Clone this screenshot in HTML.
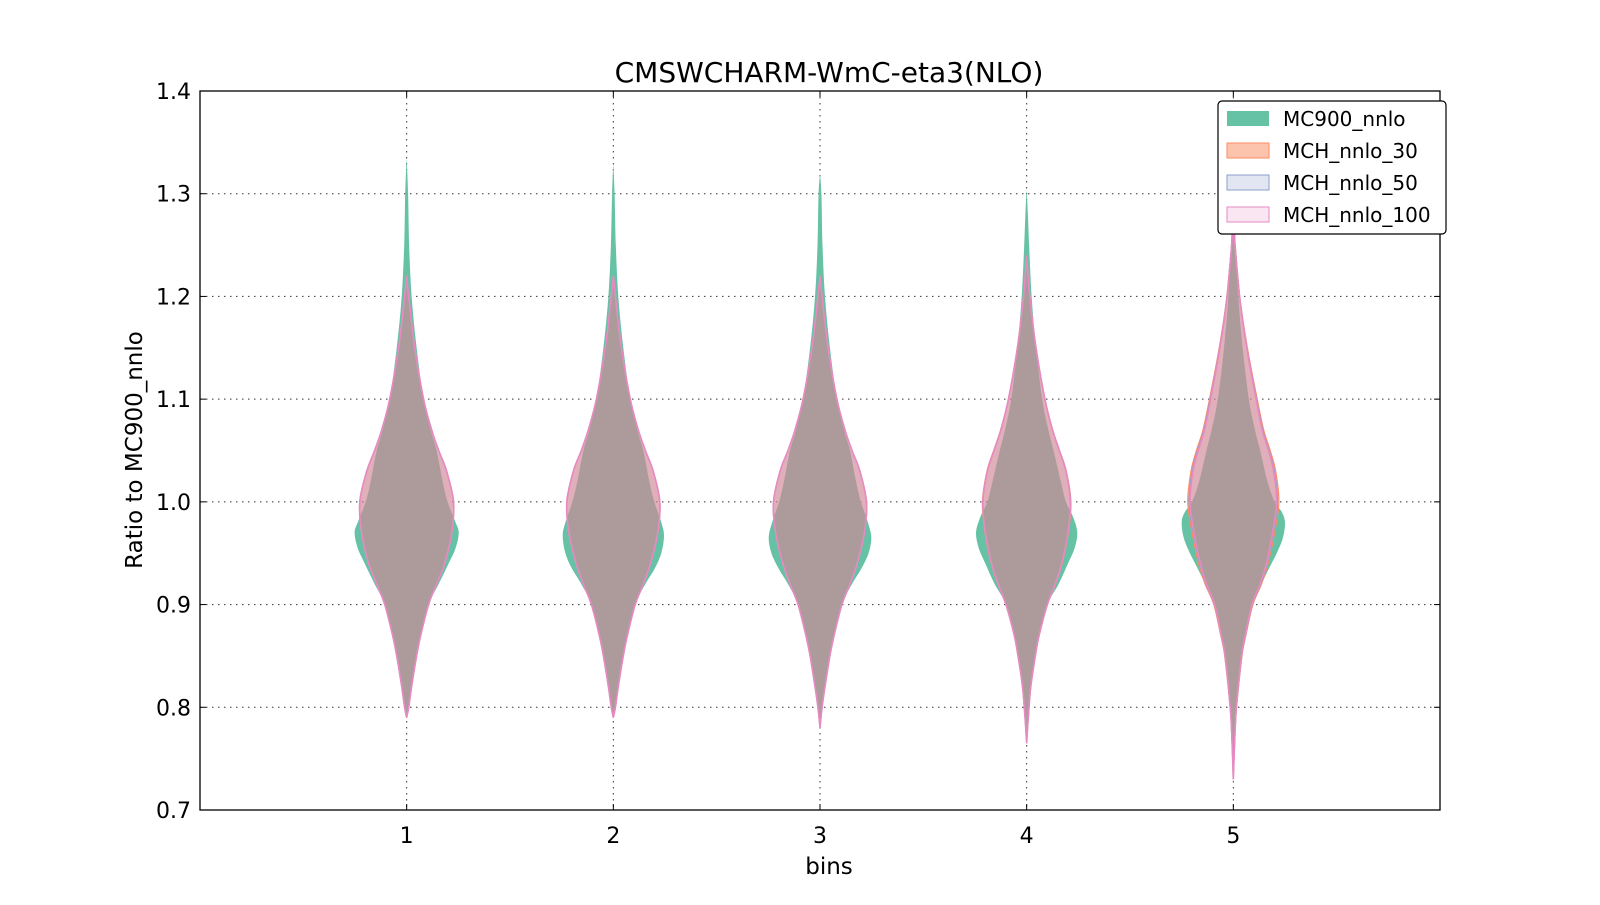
<!DOCTYPE html>
<html><head><meta charset="utf-8">
<style>
body{margin:0;background:#fff;}
svg text{font-family:"DejaVu Sans","Liberation Sans",sans-serif;fill:#000;}
</style></head>
<body>
<svg id="chart" width="1600" height="900" viewBox="0 0 1600 900" xmlns="http://www.w3.org/2000/svg">
<rect width="1600" height="900" fill="#fff"/>
<text x="829" y="82" font-size="28" text-anchor="middle">CMSWCHARM-WmC-eta3(NLO)</text>
<g id="grid"></g>
<g id="violins"></g>
<rect x="200" y="91" width="1240" height="719" fill="none" stroke="#000" stroke-width="1.3"/>
<g id="ticks"></g>
<text x="829" y="874" font-size="23" text-anchor="middle">bins</text>
<text transform="translate(142,450) rotate(-90)" font-size="23" text-anchor="middle">Ratio to MC900_nnlo</text>
<g>
<rect x="1218" y="101" width="228" height="133" rx="4" fill="#fff" stroke="#000" stroke-width="1.2"/>
<g><rect x="1227" y="111" width="42" height="15" fill="#66c2a5"/><text x="1283" y="126" font-size="20">MC900_nnlo</text></g>
<g><rect x="1227" y="143" width="42" height="15" fill="#fdc4ad" stroke="#fc8d62"/><text x="1283" y="158" font-size="20">MCH_nnlo_30</text></g>
<g><rect x="1227" y="175" width="42" height="15" fill="#e1e6f2" stroke="#8da0cb"/><text x="1283" y="190" font-size="20">MCH_nnlo_50</text></g>
<g><rect x="1227" y="207" width="42" height="15" fill="#faE6f3" stroke="#e78ac3"/><text x="1283" y="222" font-size="20">MCH_nnlo_100</text></g>
</g>
</svg>
<script>
const bins = [1, 2, 3, 4, 5];
const yTicks = [0.7, 0.8, 0.9, 1.0, 1.1, 1.2, 1.3, 1.4];
const yTickLabels = ["0.7", "0.8", "0.9", "1.0", "1.1", "1.2", "1.3", "1.4"];
// MC900 profiles: ratio values and half-widths (in bin units)
const greenVals = [
 [1.335,1.3,1.25,1.2,1.15,1.1,1.07,1.05,1.02,1.0,0.98,0.97,0.955,0.94,0.92,0.9,0.87,0.85,0.82,0.8,0.79],
 [1.33,1.3,1.25,1.2,1.15,1.1,1.07,1.05,1.02,1.0,0.98,0.967,0.95,0.935,0.92,0.9,0.87,0.85,0.82,0.8,0.79],
 [1.32,1.3,1.25,1.2,1.15,1.1,1.07,1.05,1.02,1.0,0.98,0.965,0.95,0.935,0.92,0.9,0.87,0.85,0.82,0.8,0.78],
 [1.305,1.28,1.25,1.2,1.15,1.1,1.07,1.05,1.02,1.0,0.985,0.97,0.955,0.94,0.92,0.9,0.87,0.85,0.82,0.79,0.765],
 [1.29,1.27,1.25,1.2,1.15,1.1,1.07,1.05,1.02,1.0,0.99,0.98,0.965,0.95,0.93,0.9,0.87,0.85,0.8,0.76,0.725]];
const greenW = [
 [0,0.007,0.012,0.024,0.048,0.082,0.116,0.145,0.174,0.198,0.237,0.252,0.237,0.203,0.155,0.106,0.068,0.048,0.024,0.01,0],
 [0,0.006,0.012,0.024,0.048,0.082,0.116,0.145,0.174,0.198,0.232,0.245,0.232,0.2,0.155,0.106,0.068,0.048,0.024,0.01,0],
 [0,0.007,0.012,0.024,0.048,0.082,0.116,0.145,0.174,0.198,0.232,0.248,0.235,0.2,0.155,0.106,0.068,0.048,0.024,0.01,0],
 [0,0.006,0.012,0.024,0.045,0.075,0.105,0.13,0.165,0.19,0.225,0.245,0.232,0.2,0.155,0.1,0.06,0.04,0.018,0.008,0],
 [0,0.008,0.012,0.024,0.045,0.075,0.105,0.13,0.165,0.2,0.235,0.25,0.24,0.21,0.16,0.095,0.058,0.04,0.015,0.007,0]];
// MCH_nnlo_100 profiles
const pinkVals = [
 [1.22,1.2,1.15,1.1,1.07,1.05,1.03,1.0,0.97,0.94,0.92,0.9,0.87,0.85,0.82,0.8,0.79],
 [1.22,1.2,1.15,1.1,1.07,1.05,1.03,1.0,0.97,0.94,0.92,0.9,0.87,0.85,0.82,0.8,0.79],
 [1.22,1.2,1.15,1.1,1.07,1.05,1.03,1.0,0.97,0.94,0.92,0.9,0.87,0.85,0.82,0.8,0.78],
 [1.24,1.2,1.15,1.1,1.07,1.05,1.03,1.0,0.97,0.94,0.92,0.9,0.87,0.85,0.82,0.79,0.765],
 [1.27,1.2,1.15,1.1,1.07,1.05,1.03,1.0,0.97,0.94,0.92,0.9,0.87,0.85,0.8,0.77,0.73]];
const pinkW = [
 [0,0.01,0.039,0.082,0.121,0.155,0.193,0.227,0.218,0.184,0.145,0.106,0.068,0.048,0.024,0.01,0],
 [0,0.01,0.039,0.082,0.121,0.155,0.193,0.225,0.215,0.18,0.145,0.106,0.068,0.048,0.024,0.01,0],
 [0,0.01,0.039,0.082,0.121,0.155,0.193,0.225,0.215,0.18,0.145,0.106,0.068,0.048,0.024,0.01,0],
 [0,0.015,0.045,0.088,0.125,0.158,0.19,0.212,0.2,0.17,0.138,0.1,0.06,0.042,0.02,0.008,0],
 [0,0.03,0.065,0.11,0.14,0.17,0.195,0.21,0.19,0.16,0.13,0.09,0.058,0.04,0.015,0.007,0]];
const orangeScale = [1.0, 1.0, 1.0, 1.01, 1.05];
const blueScale = [1.0, 1.0, 1.0, 1.0, 1.02];

const X0=200, X1=1440, Y0=91, Y1=810;
const xs = v => X0 + (v-0)/(6-0)*(X1-X0);
const ys = v => Y1 - (v-0.7)/(1.4-0.7)*(Y1-Y0);
const ws = w => w*(X1-X0)/6;
const NS="http://www.w3.org/2000/svg";
function mk(tag, attrs, parent){const e=document.createElementNS(NS,tag);for(const k in attrs)e.setAttribute(k,attrs[k]);parent.appendChild(e);return e;}

function smooth(pts){
  let d="M"+pts[0][0].toFixed(1)+","+pts[0][1].toFixed(1);
  for(let i=0;i<pts.length-1;i++){
    const p0=pts[Math.max(0,i-1)],p1=pts[i],p2=pts[i+1],p3=pts[Math.min(pts.length-1,i+2)];
    const c1=[p1[0]+(p2[0]-p0[0])/6,p1[1]+(p2[1]-p0[1])/6];
    const c2=[p2[0]-(p3[0]-p1[0])/6,p2[1]-(p3[1]-p1[1])/6];
    d+="C"+c1[0].toFixed(1)+","+c1[1].toFixed(1)+" "+c2[0].toFixed(1)+","+c2[1].toFixed(1)+" "+p2[0].toFixed(1)+","+p2[1].toFixed(1);
  }
  return d;
}
function violinPath(center, vals, widths, scale){
  const right=vals.map((v,i)=>[xs(center)+ws(widths[i]*scale), ys(v)]);
  const left=vals.map((v,i)=>[xs(center)-ws(widths[i]*scale), ys(v)]).reverse();
  const d1=smooth(right), d2=smooth(left);
  return d1+"L"+d2.slice(1)+"Z";
}

const grid=document.getElementById('grid');
yTicks.forEach((t,i)=>{
  if(i>0&&i<yTicks.length-1){
    const l=mk('line',{x1:X0,x2:X1,y1:ys(t),y2:ys(t),stroke:'#000','stroke-width':1,'stroke-dasharray':'1.5,4.5',opacity:0.8},grid);
    
    
  }
});
bins.forEach(b=>{
  const l=mk('line',{x1:xs(b),x2:xs(b),y1:Y0,y2:Y1,stroke:'#000','stroke-width':1,'stroke-dasharray':'1.5,4.5',opacity:0.8},grid);
  
  
});

const vg=document.getElementById('violins');
bins.forEach((b,i)=>{
  const g=mk('path',{d:violinPath(b,greenVals[i],greenW[i],1),fill:'#66c2a5'},vg);
  
  
  const o=mk('path',{d:violinPath(b,pinkVals[i],pinkW[i],orangeScale[i]),fill:'rgba(252,141,98,0.25)',stroke:'#fc8d62','stroke-width':1.2},vg);
  
  
  const bl=mk('path',{d:violinPath(b,pinkVals[i],pinkW[i],blueScale[i]),fill:'rgba(141,160,203,0.2)',stroke:'#8da0cb','stroke-width':1.2},vg);
  
  
  const p=mk('path',{d:violinPath(b,pinkVals[i],pinkW[i],1),fill:'rgba(214,130,150,0.45)',stroke:'#e78ac3','stroke-width':1.6},vg);
  
  
});

const tk=document.getElementById('ticks');
yTicks.forEach((t,i)=>{
  mk('line',{x1:X0,x2:X0+6,y1:ys(t),y2:ys(t),stroke:'#000'},tk);
  mk('line',{x1:X1-6,x2:X1,y1:ys(t),y2:ys(t),stroke:'#000'},tk);
  const tx=mk('text',{x:X0-9,y:ys(t)+8,'font-size':22,'text-anchor':'end'},tk);
  tx.textContent=yTickLabels[i];
  
  
});
bins.forEach(b=>{
  mk('line',{x1:xs(b),x2:xs(b),y1:Y1,y2:Y1-6,stroke:'#000'},tk);
  mk('line',{x1:xs(b),x2:xs(b),y1:Y0,y2:Y0+6,stroke:'#000'},tk);
  const tx=mk('text',{x:xs(b),y:Y1+33,'font-size':22,'text-anchor':'middle'},tk);
  tx.textContent=String(b);
  
  
});
</script>
</body></html>
